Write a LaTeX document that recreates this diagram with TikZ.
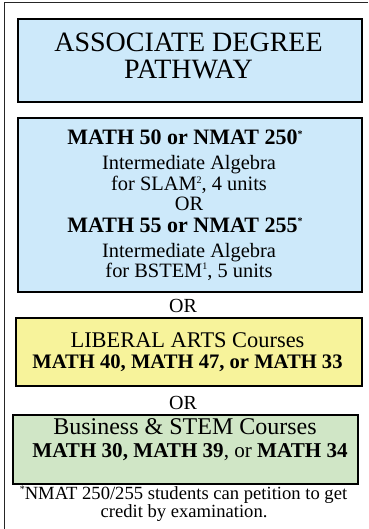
\documentclass[tikz,border=0pt]{standalone}
\usepackage{fontspec}
\setmainfont{Liberation Serif}
\definecolor{bluefill}{RGB}{205,233,250}
\definecolor{yellowfill}{RGB}{247,243,155}
\definecolor{greenfill}{RGB}{208,230,198}
\newcommand{\fsz}[1]{\fontsize{#1bp}{#1bp}\selectfont}
\newcommand{\sups}[1]{\raisebox{0.35em}{\fontsize{10bp}{10bp}\selectfont #1}}
\begin{document}
\begin{tikzpicture}[x=1bp,y=-1bp,
  box/.style={draw=black,line width=1.6bp,inner sep=0pt,anchor=north west},
  txt/.style={anchor=base,inner sep=0pt}]
\useasboundingbox (0,0) rectangle (368,529);
% outer frame (only top and left visible)
\coordinate (ftr) at (368,2.5);
\coordinate (ftl) at (4.5,2.5);
\coordinate (fbl) at (4.5,529);
\draw[line width=1.5bp,black!85] (ftr) -- (ftl) -- (fbl);

% boxes
\node[box,fill=bluefill,minimum width=344bp,minimum height=83bp] (b1) at (17,18) {};
\node[box,fill=bluefill,minimum width=344bp,minimum height=174bp] (b2) at (17,117) {};
\node[box,fill=yellowfill,minimum width=346bp,minimum height=68bp] (b3) at (15,317) {};
\node[box,fill=greenfill,minimum width=345bp,minimum height=69bp] (b4) at (12,414) {};

% box 1 text
\node[txt,font=\fsz{28}] (t11) at (188.5,52) {ASSOCIATE DEGREE};
\node[txt,font=\fsz{28}] (t12) at (188.5,79) {PATHWAY};

% box 2 text
\node[txt,font=\fsz{22}\bfseries] (t21) at (185,145) {MATH 50 or NMAT 250\sups{*}};
\node[txt,font=\fsz{20.4}] (t22) at (189,170) {Intermediate Algebra};
\node[txt,font=\fsz{20.4}] (t23) at (189,191) {for SLAM\sups{2}, 4 units};
\node[txt,font=\fsz{20.4}] (t24) at (189,211) {OR};
\node[txt,font=\fsz{22}\bfseries] (t25) at (185,232) {MATH 55 or NMAT 255\sups{*}};
\node[txt,font=\fsz{20.4}] (t26) at (189,257) {Intermediate Algebra};
\node[txt,font=\fsz{20.4}] (t27) at (189,277) {for BSTEM\sups{1}, 5 units};

% OR separators
\node[txt,font=\fsz{20}] (or1) at (183,312) {OR};
\node[txt,font=\fsz{20}] (or2) at (183,409) {OR};

% box 3 text
\node[txt,font=\fsz{22.4}] (t31) at (187.5,347) {LIBERAL ARTS Courses};
\node[txt,font=\fsz{20.6}\bfseries] (t32) at (187.5,368) {MATH 40, MATH 47, or MATH 33};

% box 4 text
\node[txt,font=\fsz{24}] (t41) at (185,434) {Business \& STEM Courses};
\node[txt,font=\fsz{21.1}] (t42) at (190,457) {\textbf{MATH 30, MATH 39}, or \textbf{MATH 34}};

% footnote
\node[txt,font=\fsz{18.6}] (f1) at (183.5,499) {\sups{*}NMAT 250/255 students can petition to get};
\node[txt,font=\fsz{18.6}] (f2) at (184,517) {credit by examination.};
\end{tikzpicture}
\end{document}
